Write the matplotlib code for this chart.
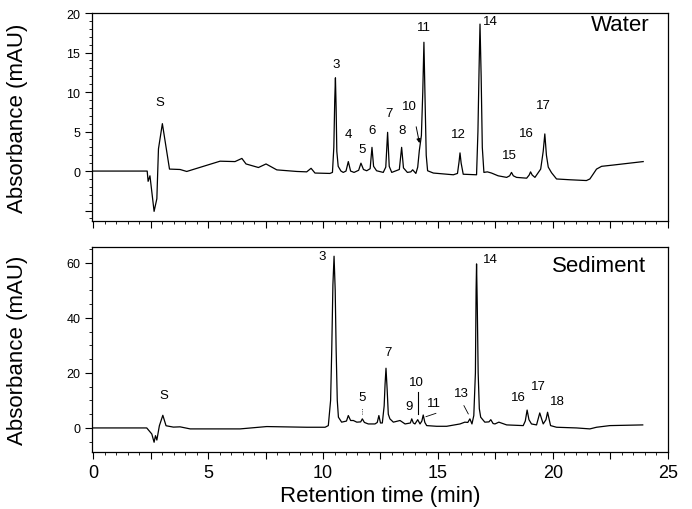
import numpy as np
import matplotlib
matplotlib.use('Agg')
import matplotlib.pyplot as plt
from matplotlib.ticker import MultipleLocator, FuncFormatter

plt.rcParams['font.family'] = ['Liberation Sans', 'DejaVu Sans']

# Water chromatogram (time in min, absorbance in mAU)
water_t = [0.0, 2.35, 2.39, 2.47, 2.65, 2.77, 2.84, 3.01, 3.32, 3.78, 4.07, 5.52, 6.17,
           6.47, 6.65, 7.19, 7.52, 7.99, 8.86, 9.29, 9.48, 9.65, 10.30, 10.41, 10.47,
           10.51, 10.54, 10.57, 10.60, 10.66, 10.78, 10.88, 11.00, 11.10, 11.20, 11.35,
           11.55, 11.65, 11.76, 11.90, 12.05, 12.13, 12.20, 12.33, 12.62, 12.73, 12.81,
           12.88, 12.99, 13.32, 13.42, 13.50, 13.67, 13.82, 13.90, 14.04, 14.12, 14.19,
           14.28, 14.34, 14.39, 14.44, 14.49, 14.55, 14.80, 15.67, 15.85, 15.92, 15.96,
           16.01, 16.10, 16.68, 16.74, 16.79, 16.83, 16.88, 16.93, 17.00, 17.15, 17.33,
           17.62, 17.99, 18.12, 18.20, 18.28, 18.42, 18.86, 18.97, 19.03, 19.10, 19.22,
           19.47, 19.58, 19.65, 19.72, 19.80, 19.94, 20.16, 20.74, 21.46, 21.61, 21.75,
           21.90, 22.12, 22.62, 23.93]
water_v = [0.0, 0.0, -1.3, -0.6, -5.1, -3.5, 2.8, 6.0, 0.25, 0.2, -0.05, 1.25, 1.2,
           1.6, 0.9, 0.45, 0.9, 0.15, -0.05, -0.1, 0.35, -0.25, -0.3, -0.17, 3.0,
           9.0, 11.8, 8.0, 2.5, 0.6, 0.0, -0.17, 0.0, 1.2, 0.0, -0.17,
           0.1, 1.0, 0.2, 0.04, 0.3, 3.0, 0.6, 0.04, -0.17, 0.5, 4.9,
           0.6, -0.17, 0.2, 3.0, 0.4, -0.17, -0.1, 0.16, -0.3, 0.5, 2.6,
           4.5, 10.0, 16.3, 9.0, 2.0, 0.04, -0.25, -0.47, -0.3, 1.2, 2.3,
           1.0, -0.4, -0.47, 5.0, 13.0, 18.6, 12.0, 3.0, -0.17, -0.1, -0.25,
           -0.6, -0.8, -0.6, -0.17, -0.6, -0.8, -0.9, -0.5, -0.1, -0.5, -0.8,
           0.25, 2.5, 4.7, 2.0, 0.5, -0.2, -1.0, -1.1, -1.2, -1.0, -0.4,
           0.25, 0.6, 0.76, 1.2]

# Sediment chromatogram
sed_t = [0.0, 2.33, 2.55, 2.65, 2.71, 2.77, 2.88, 3.03, 3.17, 3.49, 3.78, 4.22, 6.39,
         7.55, 9.29, 10.09, 10.23, 10.33, 10.38, 10.43, 10.48, 10.53, 10.57, 10.62,
         10.67, 10.81, 11.02, 11.10, 11.20, 11.32, 11.47, 11.64, 11.71, 11.80, 11.97,
         12.26, 12.36, 12.43, 12.50, 12.58, 12.66, 12.70, 12.74, 12.79, 12.84, 12.91,
         13.06, 13.35, 13.57, 13.80, 13.86, 13.93, 14.0, 14.12, 14.22, 14.30, 14.36,
         14.43, 14.51, 14.94, 15.38, 15.96, 16.17, 16.30, 16.39, 16.48, 16.56, 16.63,
         16.66, 16.68, 16.71, 16.75, 16.80, 16.86, 17.04, 17.22, 17.30, 17.40, 17.48,
         17.65, 17.99, 18.71, 18.80, 18.88, 18.96, 19.07, 19.29, 19.43, 19.58, 19.70,
         19.77, 19.90, 20.16, 21.03, 21.61, 21.90, 22.48, 23.91]
sed_v = [0.0, 0.0, -2.2, -5.2, -2.8, -4.4, 0.8, 4.6, 0.8, 0.3, 0.4, -0.35, -0.35,
         0.5, 0.25, 0.25, 0.85, 10.0, 28.7, 52.0, 62.4, 50.0, 28.7, 10.0,
         3.9, 2.1, 2.5, 4.5, 2.7, 2.7, 2.1, 2.2, 3.3, 2.0, 1.45,
         1.45, 2.0, 4.5, 1.8, 1.8, 8.0, 16.0, 21.7, 14.0, 5.0, 3.3,
         2.1, 2.7, 1.45, 1.8, 3.3, 1.8, 1.45, 3.0, 1.45, 2.5, 4.7,
         2.0, 0.85, 0.6, 0.6, 1.45, 2.1, 2.0, 3.3, 1.45, 4.5, 20.0,
         50.0, 59.6, 45.0, 20.0, 7.0, 3.9, 2.1, 2.2, 3.0, 1.6, 1.45,
         2.1, 1.1, 0.85, 2.5, 6.5, 3.0, 1.45, 1.1, 5.45, 1.45, 3.0,
         5.7, 0.85, 0.25, 0.0, -0.35, 0.25, 0.85, 1.1]

# peak labels: text, time, absorbance
water_labels = ['S', '3', '4', '5', '6', '7', '8', '10', '11', '12', '15', '16', '17']
water_lab_t = [2.91, 10.55, 11.1, 11.68, 12.13, 12.88, 13.42, 13.75, 14.4, 15.91, 18.13, 18.86, 19.58]
water_lab_v = [8.7, 13.5, 4.7, 2.8, 5.2, 7.4, 5.2, 8.2, 18.2, 4.7, 2.0, 4.8, 8.3]

sed_labels = ['S', '3', '5', '7', '10', '9', '11', '13', '16', '17', '18']
sed_lab_t = [3.06, 9.94, 11.71, 12.81, 14.07, 13.74, 14.84, 16.03, 18.49, 19.36, 20.19]
sed_lab_v = [12.1, 62.3, 11.2, 27.5, 16.8, 7.9, 9.1, 12.7, 11.2, 15.4, 9.9]

fig = plt.figure(figsize=(6.92, 5.10), dpi=100)
ax1 = fig.add_axes([0.133, 0.565, 0.832, 0.4075])
ax2 = fig.add_axes([0.133, 0.112, 0.832, 0.402])

ax1.plot(water_t, water_v, color='black', lw=0.9)
ax2.plot(sed_t, sed_v, color='black', lw=0.9)

for lab, t, v in zip(water_labels, water_lab_t, water_lab_v):
    ax1.text(t, v, lab, ha='center', va='center', fontsize=9.5)
ax1.text(16.97, 19.0, '14', ha='left', va='center', fontsize=9.5)
ax1.annotate('', xy=(14.22, 3.2), xytext=(14.03, 5.95),
             arrowprops=dict(arrowstyle='-|>', lw=0.7, color='black', mutation_scale=6))
ax1.text(0.969, 0.943, 'Water', transform=ax1.transAxes, ha='right', va='center', fontsize=16)

for lab, t, v in zip(sed_labels, sed_lab_t, sed_lab_v):
    ax2.text(t, v, lab, ha='center', va='center', fontsize=9.5)
ax2.text(16.97, 61.5, '14', ha='left', va='center', fontsize=9.5)
ax2.plot([11.71, 11.71], [5.1, 7.2], color='black', lw=0.6, ls=':')
ax2.plot([14.12, 14.12], [5.1, 13.0], color='black', lw=0.8)
ax2.plot([14.91, 14.48], [5.3, 4.1], color='black', lw=0.6)
ax2.plot([16.13, 16.32], [8.1, 5.1], color='black', lw=0.6)
ax2.text(0.962, 0.909, 'Sediment', transform=ax2.transAxes, ha='right', va='center', fontsize=16)

ax1.set_ylim(-6.3, 20)
ax1.set_yticks([-5, 0, 5, 10, 15, 20])
ax1.set_yticklabels(['', '0', '5', '10', '15', '20'])
ax1.yaxis.set_minor_locator(MultipleLocator(1))

ax2.set_ylim(-8.7, 65.8)
ax2.set_yticks([0, 20, 40, 60])
ax2.yaxis.set_minor_locator(MultipleLocator(5))

for ax in (ax1, ax2):
    ax.set_xlim(-0.05, 25)
    ax.xaxis.set_major_locator(MultipleLocator(2.5))
    ax.xaxis.set_minor_locator(MultipleLocator(0.5))
    ax.tick_params(axis='both', which='major', direction='out', length=5, width=0.8)
    ax.tick_params(axis='both', which='minor', direction='out', length=2.5, width=0.6)
    ax.tick_params(axis='y', labelsize=9)
    ax.tick_params(axis='x', labelsize=13)
    ax.set_ylabel('Absorbance (mAU)', fontsize=16)
    ax.yaxis.set_label_coords(-0.111, 0.5)
    for s in ax.spines.values():
        s.set_linewidth(0.9)

ax1.xaxis.set_major_formatter(FuncFormatter(lambda x, p: ''))
ax2.xaxis.set_major_formatter(FuncFormatter(lambda x, p: '%d' % x if abs(x % 5) < 1e-6 else ''))
ax2.set_xlabel('Retention time (min)', fontsize=16)
ax2.xaxis.set_label_coords(0.5, -0.16)

plt.savefig('out.png', dpi=100)
